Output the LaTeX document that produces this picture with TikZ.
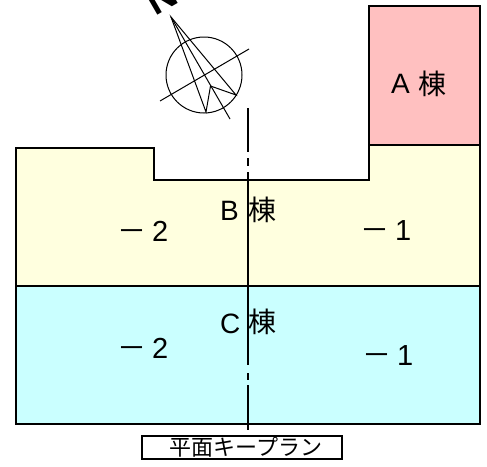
\documentclass[tikz,border=0pt]{standalone}
\usepackage{fontspec}
\setmainfont{Liberation Sans}
\newfontfamily\cjk{Noto Sans CJK JP}
\newcommand{\fsz}[1]{\fontsize{#1}{#1}\selectfont}
\newcommand{\wingnum}[2]{{\cjk －}\hspace{#1pt}#2}
\definecolor{wingA}{HTML}{FFC0C0}
\definecolor{wingB}{HTML}{FFFFDF}
\definecolor{wingC}{HTML}{CAFFFF}
\tikzset{
  wall/.style={draw=black,line width=1.9pt,line join=miter},
  thin line/.style={draw=black,line width=1pt},
  big/.style={inner sep=0pt,anchor=base west,font=\fsz{28}},
  bigk/.style={inner sep=0pt,anchor=base west,font=\fsz{28}\cjk},
  sym/.style={inner sep=0pt,anchor=base west,font=\fsz{29}}
}
\begin{document}
\begin{tikzpicture}[x=1pt,y=-1pt]
\useasboundingbox (0,0) rectangle (487,466);
\clip (0,0) rectangle (487,466);
\fill[white] (0,0) rectangle (487,466);
% wings
\path[wall,fill=wingA] (369,6) rectangle (480,145);
\path[wall,fill=wingB] (16,148) -- (154,148) -- (154,180) -- (369,180) -- (369,145) -- (480,145) -- (480,286) -- (16,286) -- cycle;
\path[wall,fill=wingC] (16,286) rectangle (480,424);
% compass
\draw[thin line] (204,75) circle (38);
\draw[thin line] (160,101) -- (249,49);
\draw[thin line,line join=miter] (171,17) -- (206,112) -- (210.5,86) -- (236,95) -- cycle;
\draw[thin line] (171,17) -- (230,119);
\node[rotate=30,inner sep=0pt,anchor=base west,font=\fsz{40}\bfseries] (north) at (155,17) {N};
% labels
\node[big] (la) at (391,93) {A};
\node[bigk] (lak) at (418,94) {棟};
\node[big] (lb) at (220,220) {B};
\node[bigk] (lbk) at (248,220) {棟};
\node[big] (lc) at (220,333) {C};
\node[bigk] (lck) at (248,332) {棟};
\node[sym] (b2) at (117.5,241) {\wingnum{5.5}{2}};
\node[sym] (b1) at (360,240) {\wingnum{6}{1}};
\node[sym] (c2) at (117.5,358) {\wingnum{5.5}{2}};
\node[sym] (c1) at (362,365) {\wingnum{6}{1}};
% axis
\draw[black,line width=1.6pt,dash pattern=on 44pt off 6pt on 8pt off 6pt on 193pt off 8pt on 7pt off 5pt on 45pt] (248,108) -- (248,430);
% key plan box
\draw[black,line width=1.1pt] (142,436) rectangle (342,459);
\node[inner sep=0pt,font=\fsz{22}\cjk] (plan) at (246,447) {平面キープラン};
\end{tikzpicture}
\end{document}
